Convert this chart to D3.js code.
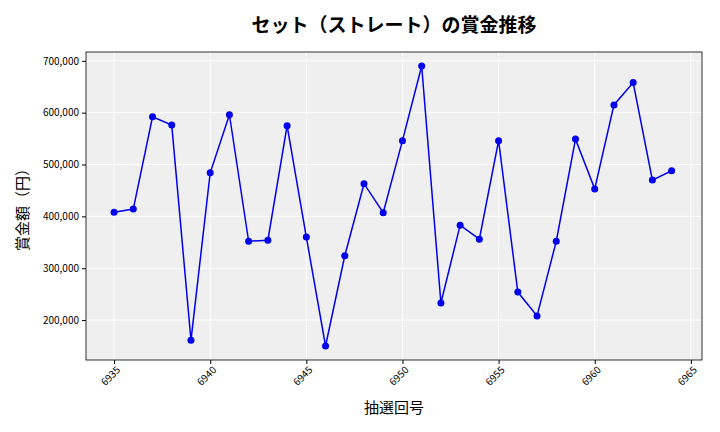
<!DOCTYPE html>
<html><head><meta charset="utf-8">
<script src="https://cdn.jsdelivr.net/npm/d3@7"></script>
<style>body{margin:0;background:#fff}text{font-family:"Noto Sans CJK JP","DejaVu Sans",sans-serif}</style>
</head><body><svg id="c" width="720" height="432"></svg>
<script>
const draws = d3.range(6935, 6965)
const prizes = [408000,414000,592000,576000,161000,484000,596000,352000,354000,575000,
  360000,150000,324000,463000,407000,546000,690000,233000,383000,356000,
  546000,254000,208000,352000,549000,453000,615000,658000,470000,488000]
const xTicks = [6935,6940,6945,6950,6955,6960,6965]
const yTicks = [200000,300000,400000,500000,600000,700000]

const svg = d3.select('#c')
const L = 86, R = 702, T = 52, B = 360
const x = d3.scaleLinear().domain([6933.54, 6965.58]).range([L, R])
const y = d3.scaleLinear().domain([123000, 717000]).range([B, T])

svg.append('rect').attr('x', L).attr('y', T).attr('width', R-L).attr('height', B-T).attr('fill', '#efefef')
const g = svg.append('g')
g.selectAll('.gx').data(xTicks).enter().append('line')
  .attr('x1', d => x(d)).attr('x2', d => x(d)).attr('y1', T).attr('y2', B).attr('stroke', '#fff')
g.selectAll('.gy').data(yTicks).enter().append('line')
  .attr('y1', d => y(d)).attr('y2', d => y(d)).attr('x1', L).attr('x2', R).attr('stroke', '#fff')
svg.append('rect').attr('x', L).attr('y', T).attr('width', R-L).attr('height', B-T).attr('fill', 'none').attr('stroke', '#000').attr('stroke-width', 0.8)

const xa = svg.append('g').attr('transform', `translate(0,${B})`)
  .call(d3.axisBottom(x).tickValues(xTicks).tickFormat(d3.format('d')).tickSize(4))
xa.select('.domain').remove()
xa.selectAll('text').attr('font-size', 10).attr('text-anchor', 'end')
  .attr('transform', 'rotate(-45)').attr('dx', '-0.3em').attr('dy', '0.5em')
const ya = svg.append('g').attr('transform', `translate(${L},0)`)
  .call(d3.axisLeft(y).tickValues(yTicks).tickFormat(d3.format(',')).tickSize(4))
ya.select('.domain').remove()
ya.selectAll('text').attr('font-size', 10)

const line = d3.line().x((d, i) => x(draws[i])).y(d => y(d))
svg.append('path').datum(prizes).attr('d', line).attr('fill', 'none').attr('stroke', '#0000ee').attr('stroke-width', 1.5)
svg.selectAll('.pt').data(prizes).enter().append('circle')
  .attr('cx', (d, i) => x(draws[i])).attr('cy', d => y(d)).attr('r', 3.5).attr('fill', '#0000ee')

svg.append('text').attr('x', 394).attr('y', 32).attr('text-anchor', 'middle')
  .attr('font-size', 19).attr('font-weight', 'bold').text('セット（ストレート）の賞金推移')
svg.append('text').attr('x', 394).attr('y', 413).attr('text-anchor', 'middle')
  .attr('font-size', 15).text('抽選回号')
svg.append('text').attr('transform', 'translate(28,206) rotate(-90)').attr('text-anchor', 'middle')
  .attr('font-size', 15).text('賞金額（円）')
</script></body></html>
